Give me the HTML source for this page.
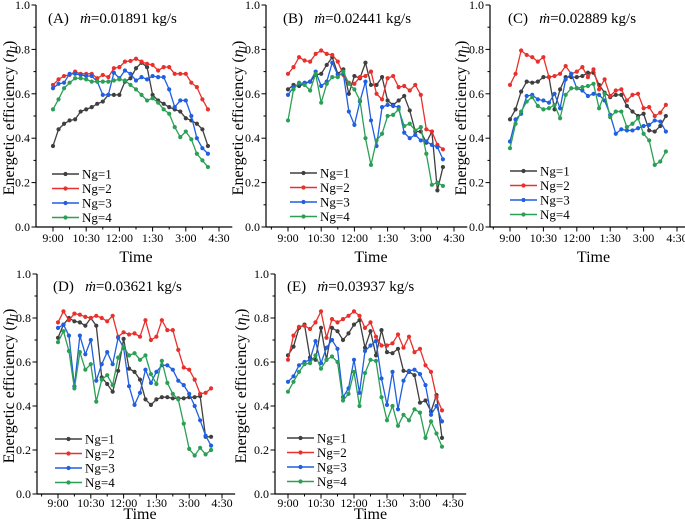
<!DOCTYPE html>
<html><head><meta charset="utf-8"><style>
body{margin:0;background:#fff;width:685px;height:528px;overflow:hidden}
svg{display:block}
svg text{font-family:"Liberation Serif","Times New Roman",serif}
</style></head><body>
<svg id="c" width="685" height="528" font-family="Liberation Serif, serif"></svg>
<script>
const xTickLabels=["9:00","10:30","12:00","1:30","3:00","4:30"];
const yTickLabels=["0.0","0.2","0.4","0.6","0.8","1.0"];
const seriesNames=["Ng=1","Ng=2","Ng=3","Ng=4"];
const panelTitles=["(A)","(B)","(C)","(D)","(E)"];
const flowRates=["0.01891","0.02441","0.02889","0.03621","0.03937"];
const aNg1=[.365,.44,.465,.48,.485,.52,.53,.54,.555,.565,.595,.595,.595,.655,.67,.715,.74,.72,.595,.57,.555,.54,.53,.52,.49,.48,.465,.44,.365];
const aNg2=[.64,.665,.68,.685,.70,.69,.69,.69,.67,.685,.675,.715,.72,.745,.748,.758,.745,.735,.73,.705,.72,.72,.69,.69,.69,.65,.63,.575,.53];
const aNg3=[.625,.645,.65,.69,.69,.685,.68,.68,.655,.595,.595,.695,.67,.705,.69,.66,.675,.665,.68,.675,.675,.62,.54,.57,.57,.50,.40,.355,.33];
const aNg4=[.53,.575,.625,.65,.67,.67,.665,.655,.655,.655,.655,.66,.665,.66,.64,.62,.595,.57,.58,.56,.53,.51,.45,.405,.43,.395,.33,.30,.27];
const bNg1=[.62,.64,.635,.645,.655,.685,.69,.73,.765,.69,.71,.60,.68,.67,.74,.64,.64,.675,.57,.55,.57,.59,.525,.43,.43,.38,.43,.165,.27];
const bNg2=[.69,.72,.765,.75,.745,.78,.795,.78,.775,.745,.685,.65,.645,.675,.68,.70,.60,.575,.67,.68,.63,.635,.615,.64,.595,.44,.43,.37,.35];
const bNg3=[.595,.63,.645,.65,.655,.70,.635,.655,.74,.685,.69,.52,.46,.565,.655,.48,.365,.54,.55,.545,.54,.425,.40,.415,.39,.385,.37,.36,.305];
const bNg4=[.48,.62,.65,.64,.615,.69,.56,.645,.675,.675,.70,.645,.62,.57,.40,.28,.39,.42,.50,.505,.53,.455,.465,.435,.45,.33,.19,.20,.185];
const cNg1=[.485,.53,.61,.655,.65,.655,.675,.675,.53,.62,.675,.675,.675,.68,.695,.695,.64,.605,.585,.595,.595,.545,.52,.50,.51,.435,.43,.455,.50];
const cNg2=[.64,.69,.795,.775,.765,.745,.765,.675,.68,.69,.725,.69,.70,.72,.675,.71,.62,.665,.59,.615,.62,.57,.595,.60,.535,.54,.50,.515,.55];
const cNg3=[.385,.485,.51,.59,.595,.575,.57,.56,.60,.535,.665,.69,.625,.615,.59,.60,.595,.57,.505,.42,.44,.435,.435,.445,.455,.46,.48,.475,.43];
const cNg4=[.355,.465,.52,.565,.585,.545,.53,.535,.55,.49,.595,.625,.625,.63,.635,.645,.535,.60,.495,.52,.52,.45,.465,.49,.42,.39,.28,.295,.34];
const dNg1=[.71,.77,.80,.785,.78,.765,.80,.765,.53,.50,.465,.56,.705,.57,.555,.52,.43,.405,.43,.44,.44,.435,.435,.435,.44,.44,.445,.26,.26];
const dNg2=[.78,.83,.79,.82,.815,.805,.80,.81,.80,.785,.81,.715,.735,.725,.73,.715,.79,.70,.715,.79,.745,.745,.655,.575,.565,.52,.455,.46,.48];
const dNg3=[.755,.77,.72,.49,.72,.635,.70,.515,.59,.645,.59,.71,.665,.49,.405,.46,.565,.505,.555,.585,.585,.565,.515,.495,.455,.40,.335,.265,.22];
const dNg4=[.69,.74,.65,.48,.645,.565,.59,.42,.52,.54,.495,.62,.67,.63,.64,.61,.63,.545,.50,.605,.505,.455,.43,.32,.205,.175,.21,.18,.20];
const eNg1=[.63,.67,.755,.77,.62,.61,.755,.61,.755,.74,.70,.73,.77,.79,.665,.74,.63,.745,.645,.64,.66,.56,.555,.54,.415,.425,.375,.45,.255];
const eNg2=[.61,.72,.76,.765,.75,.78,.83,.71,.795,.78,.795,.81,.83,.81,.755,.78,.715,.675,.675,.685,.725,.665,.715,.645,.66,.585,.555,.44,.38];
const eNg3=[.51,.535,.585,.60,.61,.695,.595,.665,.70,.66,.44,.48,.61,.46,.65,.675,.695,.525,.405,.555,.385,.515,.56,.565,.545,.495,.36,.40,.33];
const eNg4=[.465,.51,.555,.59,.595,.63,.57,.61,.625,.60,.425,.455,.555,.40,.55,.61,.605,.44,.335,.40,.31,.36,.335,.385,.37,.255,.33,.275,.215];

const NS="http://www.w3.org/2000/svg";
const svg=document.getElementById('c');
const colors=["#3f3f3f","#e8302c","#1f5fe0","#2a9f55"];
const panels=[
 {ax:36,x0:53,x1:219,yb:227,yt:5,ytl:14,data:[aNg1,aNg2,aNg3,aNg4],lx:52,ly:174,tx:48,ty:23,tl:15,tt:35},
 {ax:266,x0:288,x1:454,yb:227,yt:5,ytl:243,data:[bNg1,bNg2,bNg3,bNg4],lx:290,ly:173,tx:283,ty:23,tl:15,tt:35},
 {ax:490,x0:510,x1:677,yb:227,yt:5,ytl:466,data:[cNg1,cNg2,cNg3,cNg4],lx:510,ly:171,tx:508,ty:23,tl:15,tt:35},
 {ax:37,x0:58,x1:222,yb:494,yt:274,ytl:14,data:[dNg1,dNg2,dNg3,dNg4],lx:55,ly:439,tx:53,ty:291,tl:13,tt:25},
 {ax:275,x0:288,x1:453,yb:494,yt:274,ytl:246,data:[eNg1,eNg2,eNg3,eNg4],lx:287,ly:438,tx:287,ty:291,tl:13,tt:25}
];
function mk(tag,attrs,parent){const e=document.createElementNS(NS,tag);for(const k in attrs)e.setAttribute(k,attrs[k]);(parent||svg).appendChild(e);return e;}
panels.forEach((p,pi)=>{
 const g=mk('g',{});
 
 
 const X=h=>p.x0+(p.x1-p.x0)*h/7.5;
 const Y=v=>p.yb-(p.yb-p.yt)*v;
 const xEnd=X(8.1);
 const ya=mk('line',{x1:p.ax,y1:p.yt,x2:p.ax,y2:p.yb,stroke:'#000','stroke-width':1.2},g);
 
 
 const xa=mk('line',{x1:p.ax,y1:p.yb,x2:xEnd,y2:p.yb,stroke:'#000','stroke-width':1.2},g);
 
 
 for(let i=0;i<=10;i++){const v=i/10;mk('line',{x1:p.ax,x2:p.ax-(i%2?2.5:4.5),y1:Y(v),y2:Y(v),stroke:'#000','stroke-width':1},g);}
 yTickLabels.forEach((t,i)=>{const tx=mk('text',{x:p.ax-6,y:Y(i*0.2)+4,'text-anchor':'end','font-size':12},g);tx.textContent=t;
  
  });
 for(let h=-0.75;h<=8;h+=0.75){const x=X(h);if(x<p.ax+1||x>xEnd)continue;const major=Math.abs((h/1.5)-Math.round(h/1.5))<0.01;mk('line',{x1:x,x2:x,y1:p.yb,y2:p.yb+(major?4.5:2.5),stroke:'#000','stroke-width':1},g);}
 xTickLabels.forEach((t,i)=>{const tx=mk('text',{x:X(i*1.5),y:p.yb+p.tl,'text-anchor':'middle','font-size':12},g);tx.textContent=t;
  
  });
 const xt=mk('text',{x:(p.x0+p.x1)/2,y:p.yb+p.tt,'text-anchor':'middle','font-size':16},g);xt.textContent='Time';
 
 
 const cy=(p.yb+p.yt)/2+2;
 const yt=mk('text',{x:p.ytl,y:cy,'text-anchor':'middle','font-size':16,transform:`rotate(-90 ${p.ytl} ${cy})`},g);
 yt.innerHTML='Energetic efficiency (<tspan font-style="italic">η</tspan><tspan font-style="italic" font-size="10" dy="3">I</tspan><tspan dy="-3">)</tspan>';
 
 
 const tt=mk('text',{x:p.tx,y:p.ty,'font-size':15},g);
 tt.innerHTML=panelTitles[pi]+'\u00a0\u00a0 <tspan font-style="italic">ṁ</tspan>='+flowRates[pi]+' kg/s';
 
 
 p.data.forEach((arr,si)=>{
  const pts=arr.map((v,i)=>[X(i*0.25),Y(v)]);
  const pl=mk('polyline',{points:pts.map(q=>q.join(',')).join(' '),fill:'none',stroke:colors[si],'stroke-width':1.3},g);
  
  
  pts.forEach(q=>{const c=mk('circle',{cx:q[0],cy:q[1],r:2.1,fill:colors[si]},g);
   
   });
 });
 seriesNames.forEach((n,si)=>{
  const y=p.ly+si*14.5;
  const lg=mk('g',{},g);
  
  
  mk('line',{x1:p.lx,x2:p.lx+27,y1:y,y2:y,stroke:colors[si],'stroke-width':1.4},lg);
  mk('circle',{cx:p.lx+13.5,cy:y,r:2.1,fill:colors[si]},lg);
  const t=mk('text',{x:p.lx+30,y:y+4.5,'font-size':13},lg);t.textContent=n;
 });
});
</script>
</body></html>
